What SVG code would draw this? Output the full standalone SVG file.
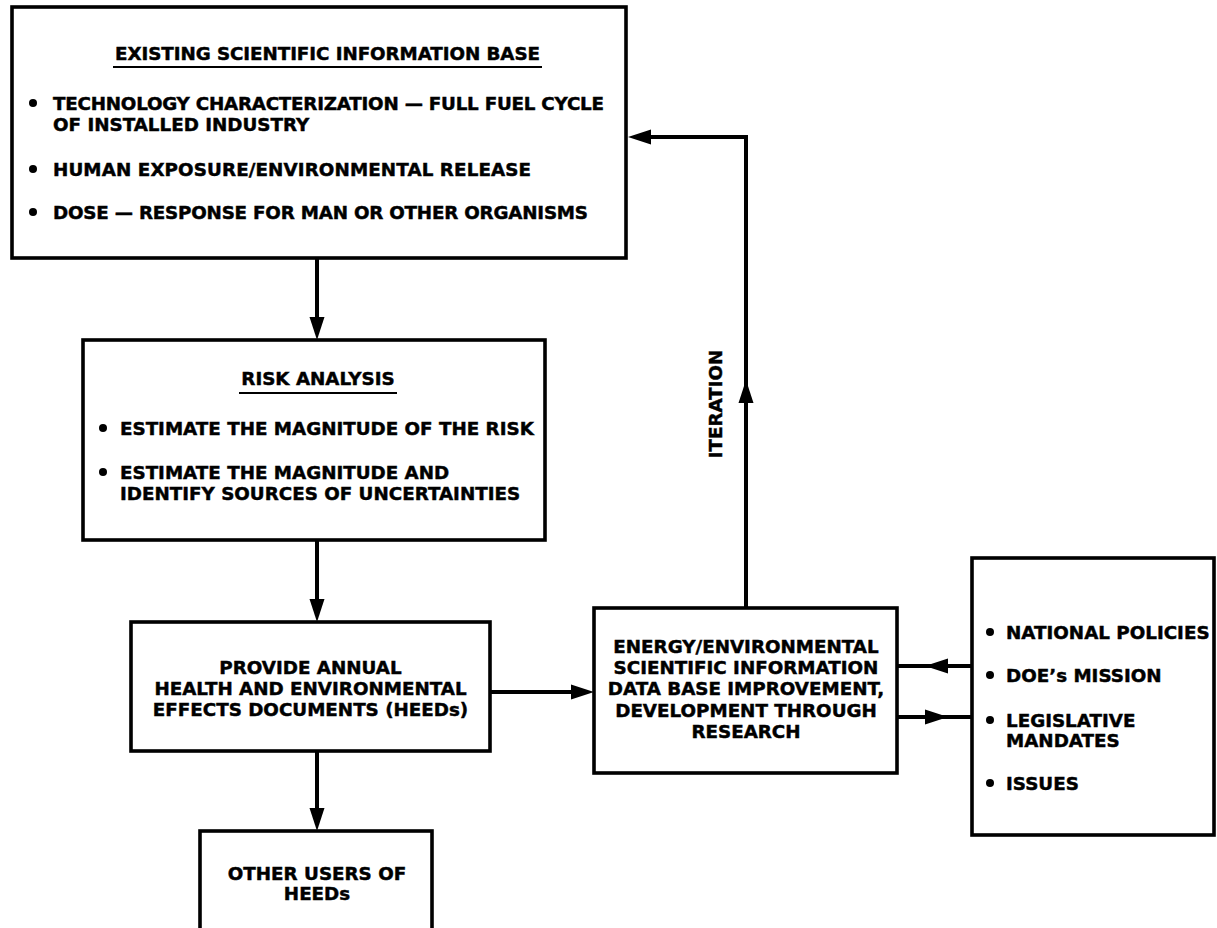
<svg xmlns="http://www.w3.org/2000/svg" xmlns:xlink="http://www.w3.org/1999/xlink" width="1217" height="928" viewBox="0 0 1217 928">
<style>
.box{fill:#fff;stroke:#000;stroke-width:3.6}
.t{font-family:"DejaVu Sans","Liberation Sans",sans-serif;font-weight:bold;font-size:18.3px;fill:#000;stroke:#000;stroke-width:0.45}
.m{text-anchor:middle}
.ul{stroke:#000;stroke-width:2.2}
.dot{fill:#000}
.c{fill:none;stroke:#000;stroke-width:4}
</style>
<defs>
<polygon id="ah" points="0,0 -23,-7.5 -23,7.5" fill="#000"/>
</defs>
<rect width="1217" height="928" fill="#fff"/>
<g id="connectors">
<line class="c" x1="317" y1="258" x2="317" y2="318"/>
<use xlink:href="#ah" transform="translate(317,340) rotate(90)"/>
<line class="c" x1="317" y1="540" x2="317" y2="600"/>
<use xlink:href="#ah" transform="translate(317,622) rotate(90)"/>
<line class="c" x1="317" y1="751" x2="317" y2="809"/>
<use xlink:href="#ah" transform="translate(317,831) rotate(90)"/>
<line class="c" x1="490" y1="692" x2="572" y2="692"/>
<use xlink:href="#ah" transform="translate(594,692)"/>
<polyline class="c" points="746,608 746,137 650,137"/>
<use xlink:href="#ah" transform="translate(628,137) rotate(180)"/>
<use xlink:href="#ah" transform="translate(746,380) rotate(-90)"/>
<line class="c" x1="972" y1="666" x2="896" y2="666"/>
<use xlink:href="#ah" transform="translate(925,666) rotate(180)"/>
<line class="c" x1="896" y1="717" x2="972" y2="717"/>
<use xlink:href="#ah" transform="translate(948,717)"/>
<text class="t m" transform="translate(721.6,404) rotate(-90)">ITERATION</text>
</g>
<g id="existing">
<rect class="box" x="12" y="7" width="614" height="251"/>
<text class="t" x="115" y="59.6" textLength="425">EXISTING SCIENTIFIC INFORMATION BASE</text>
<line class="ul" x1="113" y1="67" x2="542" y2="67"/>
<circle class="dot" cx="33" cy="103" r="4"/>
<text class="t" x="53" y="109.6" textLength="551">TECHNOLOGY CHARACTERIZATION — FULL FUEL CYCLE</text>
<text class="t" x="53" y="130.6">OF INSTALLED INDUSTRY</text>
<circle class="dot" cx="33" cy="169" r="4"/>
<text class="t" x="53" y="175.6" textLength="478">HUMAN EXPOSURE/ENVIRONMENTAL RELEASE</text>
<circle class="dot" cx="33" cy="212" r="4"/>
<text class="t" x="53" y="218.6" textLength="535">DOSE — RESPONSE FOR MAN OR OTHER ORGANISMS</text>
</g>
<g id="risk">
<rect class="box" x="83" y="340" width="462" height="200"/>
<text class="t m" x="318" y="384.6">RISK ANALYSIS</text>
<line class="ul" x1="239" y1="393" x2="397" y2="393"/>
<circle class="dot" cx="103" cy="428" r="4"/>
<text class="t" x="120" y="434.6">ESTIMATE THE MAGNITUDE OF THE RISK</text>
<circle class="dot" cx="103" cy="472" r="4"/>
<text class="t" x="120" y="478.6">ESTIMATE THE MAGNITUDE AND</text>
<text class="t" x="120" y="499.6">IDENTIFY SOURCES OF UNCERTAINTIES</text>
</g>
<g id="heeds">
<rect class="box" x="131" y="622" width="359" height="129"/>
<text class="t m" x="310.5" y="673.6">PROVIDE ANNUAL</text>
<text class="t m" x="310.5" y="694.6">HEALTH AND ENVIRONMENTAL</text>
<text class="t m" x="310.5" y="715.6">EFFECTS DOCUMENTS (HEEDs)</text>
</g>
<g id="other">
<rect class="box" x="200" y="831" width="232" height="110"/>
<text class="t m" x="317" y="879.6">OTHER USERS OF</text>
<text class="t m" x="317" y="899.6">HEEDs</text>
</g>
<g id="energy">
<rect class="box" x="594" y="608" width="303" height="165"/>
<text class="t m" x="746" y="652.6">ENERGY/ENVIRONMENTAL</text>
<text class="t m" x="746" y="673.6">SCIENTIFIC INFORMATION</text>
<text class="t m" x="746" y="694.6">DATA BASE IMPROVEMENT,</text>
<text class="t m" x="746" y="716.6">DEVELOPMENT THROUGH</text>
<text class="t m" x="746" y="737.6">RESEARCH</text>
</g>
<g id="drivers">
<rect class="box" x="972" y="558" width="242" height="277"/>
<circle class="dot" cx="990" cy="632" r="4"/>
<text class="t" x="1006" y="638.6">NATIONAL POLICIES</text>
<circle class="dot" cx="990" cy="675" r="4"/>
<text class="t" x="1006" y="681.6">DOE’s MISSION</text>
<circle class="dot" cx="990" cy="720" r="4"/>
<text class="t" x="1006" y="726.6">LEGISLATIVE</text>
<text class="t" x="1006" y="746.6">MANDATES</text>
<circle class="dot" cx="990" cy="783" r="4"/>
<text class="t" x="1006" y="789.6">ISSUES</text>
</g>
</svg>
